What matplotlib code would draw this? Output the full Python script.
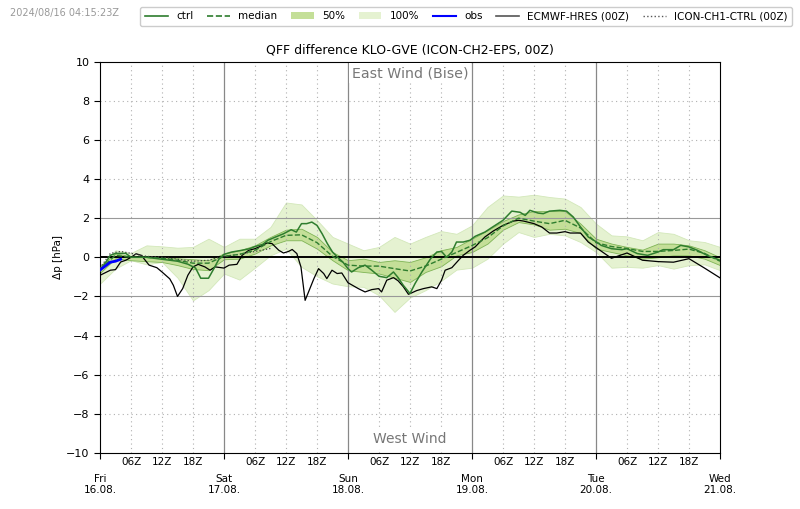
import matplotlib
matplotlib.use("Agg")
import matplotlib.pyplot as plt
from matplotlib.patches import Patch
from matplotlib.lines import Line2D

# --- ensemble bands (every 3 h from Fri 16.08. 00Z) ---
band_hours = list(range(0, 121, 3))
p100_hi = [-0.45, 0.36, 0.22, 0.61, 0.56, 0.49, 0.53, 0.95, 0.53, 0.95, 0.95, 1.55, 2.8, 2.7, 1.9, 1.04,
           0.7, 0.36, 0.53, 1.04, 0.7, 1.04, 1.34, 1.2, 1.63, 2.57, 3.16, 3.1, 3.2, 3.08, 3.0, 2.57,
           1.72, 1.12, 1.07, 0.87, 1.29, 1.2, 0.87, 0.78, 0.53]
p100_lo = [-1.35, -0.58, -0.15, -0.36, -0.24, -1.04, -2.2, -1.68, -0.83, -1.14, -0.53, 0.1, 0.44, -0.49, -0.97, -1.34,
           -1.48, -1.51, -1.94, -2.79, -2.06, -1.68, -1.21, -0.63, -0.53, -0.07, 0.7, 1.29, 1.04, 1.2, 1.12, 0.78,
           0.27, -0.53, -0.49, -0.53, -0.4, -0.58, -0.4, -0.36, -0.66]
p50_hi = [-0.45, 0.2, 0.05, 0.05, 0.0, -0.05, -0.1, -0.15, 0.2, 0.36, 0.61, 1.04, 1.41, 1.46, 1.04, 0.27,
          -0.15, -0.07, -0.24, -0.15, -0.24, 0.0, 0.36, 0.53, 0.95, 1.38, 1.85, 2.19, 2.36, 2.36, 2.36, 1.72,
          0.95, 0.7, 0.53, 0.39, 0.7, 0.7, 0.61, 0.36, 0.0]
p50_lo = [-0.8, -0.05, -0.15, -0.2, -0.24, -0.4, -0.6, -0.66, -0.1, -0.07, 0.19, 0.61, 0.87, 0.87, 0.44, -0.15,
          -0.66, -0.75, -0.83, -1.04, -1.26, -0.75, -0.46, 0.1, 0.27, 0.7, 1.41, 1.8, 1.68, 1.41, 1.46, 1.24,
          0.44, 0.27, 0.1, -0.07, 0.0, 0.1, 0.1, -0.07, -0.4]
median = [-0.6, 0.1, 0.0, 0.0, -0.05, -0.15, -0.3, -0.3, 0.05, 0.15, 0.36, 0.8, 1.12, 1.15, 0.75, 0.05,
          -0.4, -0.45, -0.45, -0.58, -0.7, -0.45, -0.1, 0.25, 0.6, 1.0, 1.6, 2.0, 1.85, 1.72, 1.89, 1.5,
          0.75, 0.55, 0.45, 0.3, 0.3, 0.35, 0.42, 0.2, -0.2]

# --- control run ---
ctrl_hours = [0, 2, 3, 5, 6, 9, 12, 15, 17, 18.5, 19.5, 21, 22, 23, 24, 25.5, 27.5, 29, 30, 31.5,
              32.5, 34, 35.5, 37, 38, 39, 40, 41, 42, 43, 44, 45, 46, 47, 48, 48.7, 50, 51.3, 52.6, 54,
              55.5, 56.8, 57.7, 58.7, 60, 61, 62.3, 64, 65.2, 66.1, 67.1, 68.1, 69, 70.3, 71.6, 72.6, 74.5, 76, 78, 79.7,
              81.3, 82.3, 83.2, 84.8, 85.8, 87, 89, 90.3, 91.6, 93, 94.5, 96, 97, 99, 101, 102, 104, 106, 108, 109,
              111, 112.4, 114, 115.6, 117.5, 120]
ctrl_vals = [-0.7, 0.1, 0.2, 0.2, 0.0, 0.0, -0.1, -0.2, -0.35, -0.55, -1.07, -1.07, -0.6, -0.1, 0.15, 0.27, 0.36, 0.44, 0.55, 0.66,
             0.87, 1.04, 1.2, 1.41, 1.29, 1.72, 1.72, 1.8, 1.63, 1.2, 0.7, 0.27, 0.0, -0.24, -0.58, -0.75, -0.53, -0.4, -0.66, -0.97,
             -1.04, -0.75, -1.04, -1.43, -1.85, -1.33, -0.75, -0.07, 0.27, 0.3, 0.0, 0.27, 0.78, 0.78, 0.87, 1.07, 1.29, 1.55, 1.89, 2.36,
             2.3, 2.14, 2.4, 2.26, 2.23, 2.36, 2.4, 2.36, 2.06, 1.55, 1.04, 0.8, 0.61, 0.44, 0.39, 0.44, 0.19, 0.1, 0.27, 0.39,
             0.39, 0.61, 0.53, 0.36, 0.1, -0.15]

# --- ECMWF-HRES ---
ec_hours = [0, 2, 3, 4, 5, 6, 7, 8, 9.5, 11, 12, 13.5, 14.2, 15, 16, 17, 18, 19, 20.3, 21.3,
            22.3, 24, 25, 26.5, 27.5, 28.8, 30, 31.4, 32.3, 33.3, 34.6, 35.5, 36.5, 37.2, 38.1, 38.9, 39.7, 40.5, 41.4, 42.3,
            43.3, 43.9, 44.9, 45.9, 46.8, 48, 50, 51.3, 52.6, 53.9, 54.5, 55.5, 56.8, 57.7, 58.7, 59.7, 60.3, 61.3, 62.6, 64.2,
            65.2, 66.1, 66.8, 68.1, 69.4, 70.3, 71.6, 72.6, 74.5, 76.1, 78, 80, 81, 82, 84, 85.5, 87, 88.4, 90, 91,
            93, 94.5, 96, 99, 102, 105, 108, 111, 114, 117, 120]
ec_vals = [-0.92, -0.66, -0.63, -0.24, -0.15, 0.0, 0.18, 0.1, -0.4, -0.53, -0.75, -1.1, -1.43, -2.0, -1.6, -0.92, -0.49, -0.36, -0.49, -0.66,
           -0.49, -0.55, -0.4, -0.36, 0.1, 0.36, 0.44, 0.6, 0.73, 0.7, 0.36, 0.22, 0.3, 0.4, 0.19, -0.5, -2.2, -1.68, -1.09, -0.58,
           -0.83, -1.09, -0.66, -0.83, -0.8, -1.3, -1.6, -1.77, -1.65, -1.6, -1.77, -1.17, -1.04, -1.2, -1.5, -1.89, -1.82, -1.7, -1.6, -1.51,
           -1.6, -1.17, -0.66, -0.53, -0.15, 0.1, 0.36, 0.53, 1.04, 1.34, 1.63, 1.85, 1.89, 1.85, 1.72, 1.55, 1.24, 1.24, 1.31, 1.24,
           1.24, 0.78, 0.5, -0.05, 0.22, -0.15, -0.22, -0.25, -0.07, -0.55, -1.05]

# --- ICON-CH1-CTRL and observations ---
ch1_hours = [0, 2, 4, 6, 9, 12, 15, 18, 21, 24, 27, 30, 33]
ch1_vals = [-0.55, 0.2, 0.3, 0.2, 0.05, 0.0, -0.1, -0.2, -0.15, 0.05, 0.15, 0.3, 0.45]
obs_hours = [0, 1, 2, 3, 4]
obs_vals = [-0.65, -0.45, -0.25, -0.2, -0.1]

day_labels = ['Fri\n16.08.', 'Sat\n17.08.', 'Sun\n18.08.', 'Mon\n19.08.', 'Tue\n20.08.', 'Wed\n21.08.']
hour_labels = ['06Z', '12Z', '18Z']

GREEN = '#2e7d2e'
C50 = '#c4df98'
C100 = '#e5f2d1'

fig = plt.figure(figsize=(8, 5.09), dpi=100)
ax = fig.add_axes([0.125, 0.11, 0.775, 0.769])

# bands
ax.fill_between(band_hours, p100_lo, p100_hi, color=C100, ec='#d3e8ba', lw=0.6, zorder=1)
ax.fill_between(band_hours, p50_lo, p50_hi, color=C50, ec='#7fb456', lw=0.6, zorder=1.2)

# grid
for d in range(1, 5):
    ax.axvline(24 * d, color='#888888', lw=0.9, zorder=2)
for d in range(5):
    for hh in (6, 12, 18):
        ax.axvline(24 * d + hh, color='#b0b0b0', lw=0.8, ls=(0, (1, 3)), zorder=2)
for yv in (-8, -6, -4, 4, 6, 8):
    ax.axhline(yv, color='#b0b0b0', lw=0.8, ls=(0, (1, 3)), zorder=2)
for yv in (-2, 2):
    ax.axhline(yv, color='#999999', lw=0.8, zorder=2)
ax.axhline(0, color='black', lw=1.4, zorder=2.5)

# lines
ax.plot(ec_hours, ec_vals, color='black', lw=0.9, zorder=3)
ax.plot(ch1_hours, ch1_vals, color='#444444', lw=0.9, ls=':', zorder=3)
ax.plot(band_hours, median, color=GREEN, lw=1.0, ls='--', zorder=4)
ax.plot(ctrl_hours, ctrl_vals, color=GREEN, lw=1.1, zorder=4)
ax.plot(obs_hours, obs_vals, color='#0000ff', lw=2, zorder=5)

ax.set_xlim(0, 120)
ax.set_ylim(-10, 10)
ax.set_yticks(range(-10, 11, 2))
ax.tick_params(axis='y', labelsize=8, length=4)
ax.set_ylabel('Δp [hPa]', fontsize=7.5, labelpad=2)

ax.set_xticks(range(0, 121, 24))
ax.set_xticklabels(day_labels)
ax.set_xticks([24 * d + hh for d in range(5) for hh in (6, 12, 18)], minor=True)
ax.set_xticklabels(hour_labels * 5, minor=True)
ax.tick_params(axis='x', which='major', labelsize=7.5, length=4, pad=11)
ax.tick_params(axis='x', which='minor', labelsize=7.5, length=0, pad=3)

ax.set_title('QFF difference KLO-GVE (ICON-CH2-EPS, 00Z)', fontsize=9, pad=6)

ax.text(60, 9.4, 'East Wind (Bise)', ha='center', va='center', fontsize=10.2, color='#777777',
        bbox=dict(fc='white', ec='none', pad=2), zorder=6)
ax.text(60, -9.3, 'West Wind', ha='center', va='center', fontsize=10, color='#777777',
        bbox=dict(fc='white', ec='none', pad=2), zorder=6)

fig.text(0.012, 0.975, '2024/08/16 04:15:23Z', fontsize=7, color='#999999', va='center')

handles = [
    Line2D([], [], color=GREEN, lw=1.2),
    Line2D([], [], color=GREEN, lw=1.2, ls='--'),
    Patch(fc=C50, ec='none'),
    Patch(fc=C100, ec='none'),
    Line2D([], [], color='#0000ff', lw=1.5),
    Line2D([], [], color='#555555', lw=1.2),
    Line2D([], [], color='#555555', lw=1.0, ls=':'),
]
labels = ['ctrl', 'median', '50%', '100%', 'obs', 'ECMWF-HRES (00Z)', 'ICON-CH1-CTRL (00Z)']
fig.legend(handles, labels, loc='upper right', bbox_to_anchor=(0.997, 0.997), ncol=7, fontsize=7.5,
           handlelength=2.2, columnspacing=1.3, handletextpad=0.8, borderpad=0.45, framealpha=1)

fig.savefig('out.png', dpi=100)
